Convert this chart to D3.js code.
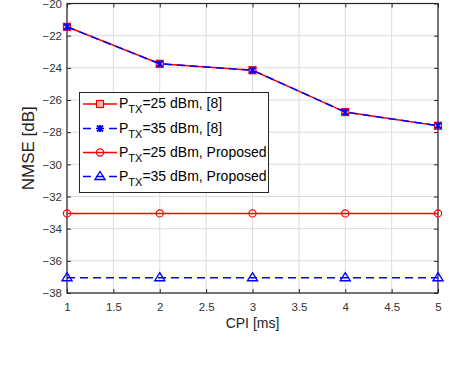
<!DOCTYPE html>
<html>
<head>
<meta charset="utf-8">
<script src="https://cdn.jsdelivr.net/npm/d3@7"></script>
<style>
  body { margin: 0; background: #fff; }
  svg { display: block; font-family: "Liberation Sans", Arial, sans-serif; }
</style>
</head>
<body>
<div id="chart"></div>
<script>
// data
const cpi = [1, 2, 3, 4, 5];
const ref25 = [-21.45, -23.75, -24.15, -26.75, -27.6];
const ref35 = [-21.45, -23.75, -24.15, -26.75, -27.6];
const prop25 = [-33.05, -33.05, -33.05, -33.05, -33.05];
const prop35 = [-37.05, -37.05, -37.05, -37.05, -37.05];
const xTicks = [1, 1.5, 2, 2.5, 3, 3.5, 4, 4.5, 5];
const yTicks = [-20, -22, -24, -26, -28, -30, -32, -34, -36, -38];
const legendLabels = ['=25 dBm, [8]', '=35 dBm, [8]', '=25 dBm, Proposed', '=35 dBm, Proposed'];
// caption words cut off at the bottom edge of the crop
const captionWords = ['NMSE', 'versus', 'the', 'CPI', 'duration.', 'The'];
const captionX = [0, 95, 166, 258, 328, 427];

const width = 450, height = 370;
const plotL = 67, plotR = 438, plotT = 3.5, plotB = 293;

const svg = d3.select('#chart').append('svg')
    .attr('width', width)
    .attr('height', height);

const x = d3.scaleLinear().domain([1, 5]).range([plotL, plotR]);
const y = d3.scaleLinear().domain([-38, -20]).range([plotB, plotT]);

// grid
svg.append('g').selectAll('line').data(xTicks).join('line')
    .attr('x1', d => x(d)).attr('x2', d => x(d))
    .attr('y1', plotT).attr('y2', plotB)
    .attr('stroke', '#dcdcdc').attr('stroke-width', 1);
svg.append('g').selectAll('line').data(yTicks).join('line')
    .attr('x1', plotL).attr('x2', plotR)
    .attr('y1', d => y(d)).attr('y2', d => y(d))
    .attr('stroke', '#dcdcdc').attr('stroke-width', 1);

// axes (matlab box with inward ticks)
const tickLen = 4;
svg.append('g').attr('transform', `translate(0,${plotB})`)
    .call(d3.axisBottom(x).tickValues(xTicks).tickSize(-tickLen).tickPadding(10).tickFormat(d3.format('')))
    .call(g => g.select('.domain').remove());
svg.append('g').attr('transform', `translate(0,${plotT})`)
    .call(d3.axisTop(x).tickValues(xTicks).tickSize(-tickLen).tickFormat(''))
    .call(g => g.select('.domain').remove());
svg.append('g').attr('transform', `translate(${plotL},0)`)
    .call(d3.axisLeft(y).tickValues(yTicks).tickSize(-tickLen).tickPadding(5))
    .call(g => g.select('.domain').remove());
svg.append('g').attr('transform', `translate(${plotR},0)`)
    .call(d3.axisRight(y).tickValues(yTicks).tickSize(-tickLen).tickFormat(''))
    .call(g => g.select('.domain').remove());

svg.selectAll('.tick line').attr('stroke', '#262626');
svg.selectAll('.tick text')
    .attr('font-size', 11.5)
    .attr('fill', '#333')
    .attr('font-family', '"Liberation Sans", Arial, sans-serif');

svg.append('rect')
    .attr('x', plotL).attr('y', plotT)
    .attr('width', plotR - plotL).attr('height', plotB - plotT)
    .attr('fill', 'none').attr('stroke', '#262626').attr('stroke-width', 1.2);

// series
const line = d3.line().x((d, i) => x(cpi[i])).y(d => y(d));
const series = [
  {vals: ref25, color: 'red', dash: null, marker: 'square'},
  {vals: ref35, color: 'blue', dash: '8,5', marker: 'star'},
  {vals: prop25, color: 'red', dash: null, marker: 'circle'},
  {vals: prop35, color: 'blue', dash: '8,5', marker: 'triangle'}
];

function drawMarker(g, type, color, cx, cy) {
  if (type === 'square') {
    g.append('rect').attr('x', cx - 3.5).attr('y', cy - 3.5)
      .attr('width', 7).attr('height', 7)
      .attr('fill', '#ffb0b0').attr('stroke', 'red').attr('stroke-width', 1.2);
  } else if (type === 'star') {
    g.append('path')
      .attr('d', `M${cx-3},${cy-3}L${cx+3},${cy+3}M${cx-3},${cy+3}L${cx+3},${cy-3}M${cx},${cy-3.5}L${cx},${cy+3.5}`)
      .attr('stroke', color).attr('stroke-width', 1.8).attr('fill', 'none');
  } else if (type === 'circle') {
    g.append('circle').attr('cx', cx).attr('cy', cy).attr('r', 3.6)
      .attr('fill', 'none').attr('stroke', color).attr('stroke-width', 1.2);
  } else if (type === 'triangle') {
    g.append('path')
      .attr('d', `M${cx},${cy-5}L${cx+5},${cy+3}L${cx-5},${cy+3}Z`)
      .attr('fill', 'none').attr('stroke', color).attr('stroke-width', 1.4);
  }
}

series.forEach(s => {
  svg.append('path')
    .datum(s.vals)
    .attr('d', line)
    .attr('fill', 'none')
    .attr('stroke', s.color)
    .attr('stroke-width', 1.5)
    .attr('stroke-dasharray', s.dash);
  const mg = svg.append('g');
  s.vals.forEach((v, i) => drawMarker(mg, s.marker, s.color, x(cpi[i]), y(v)));
});

// legend
const lg = svg.append('g');
lg.append('rect')
    .attr('x', 79.5).attr('y', 92.5).attr('width', 189).attr('height', 100)
    .attr('fill', 'white').attr('stroke', '#262626').attr('stroke-width', 1);
const rowY = [104, 128.5, 152.5, 176.5];
series.forEach((s, i) => {
  const yy = rowY[i];
  lg.append('line')
    .attr('x1', 83).attr('x2', 117).attr('y1', yy).attr('y2', yy)
    .attr('stroke', s.color).attr('stroke-width', 1.5)
    .attr('stroke-dasharray', s.dash);
  drawMarker(lg, s.marker, s.color, 100, yy);
  const t = lg.append('text')
    .attr('x', 119).attr('y', yy + 4)
    .attr('font-size', 14).attr('fill', '#000');
  t.append('tspan').text('P');
  t.append('tspan').attr('font-size', 11).attr('dy', 5).text('TX');
  t.append('tspan').attr('dy', -5).text(legendLabels[i]);
});

// axis labels
svg.append('text')
    .attr('x', (plotL + plotR) / 2).attr('y', 328)
    .attr('text-anchor', 'middle').attr('font-size', 14).attr('fill', '#222')
    .text('CPI [ms]');
svg.append('text')
    .attr('transform', `translate(34,${(plotT + plotB) / 2}) rotate(-90)`)
    .attr('text-anchor', 'middle').attr('font-size', 17).attr('fill', '#222')
    .text('NMSE [dB]');

// cut-off caption at the bottom of the crop
const cap = svg.append('text')
    .attr('y', 389)
    .attr('font-family', '"Liberation Serif", "Times New Roman", serif')
    .attr('font-size', 26).attr('fill', '#333');
captionWords.forEach((w, i) => cap.append('tspan').attr('x', captionX[i]).text(w));
</script>
</body>
</html>
